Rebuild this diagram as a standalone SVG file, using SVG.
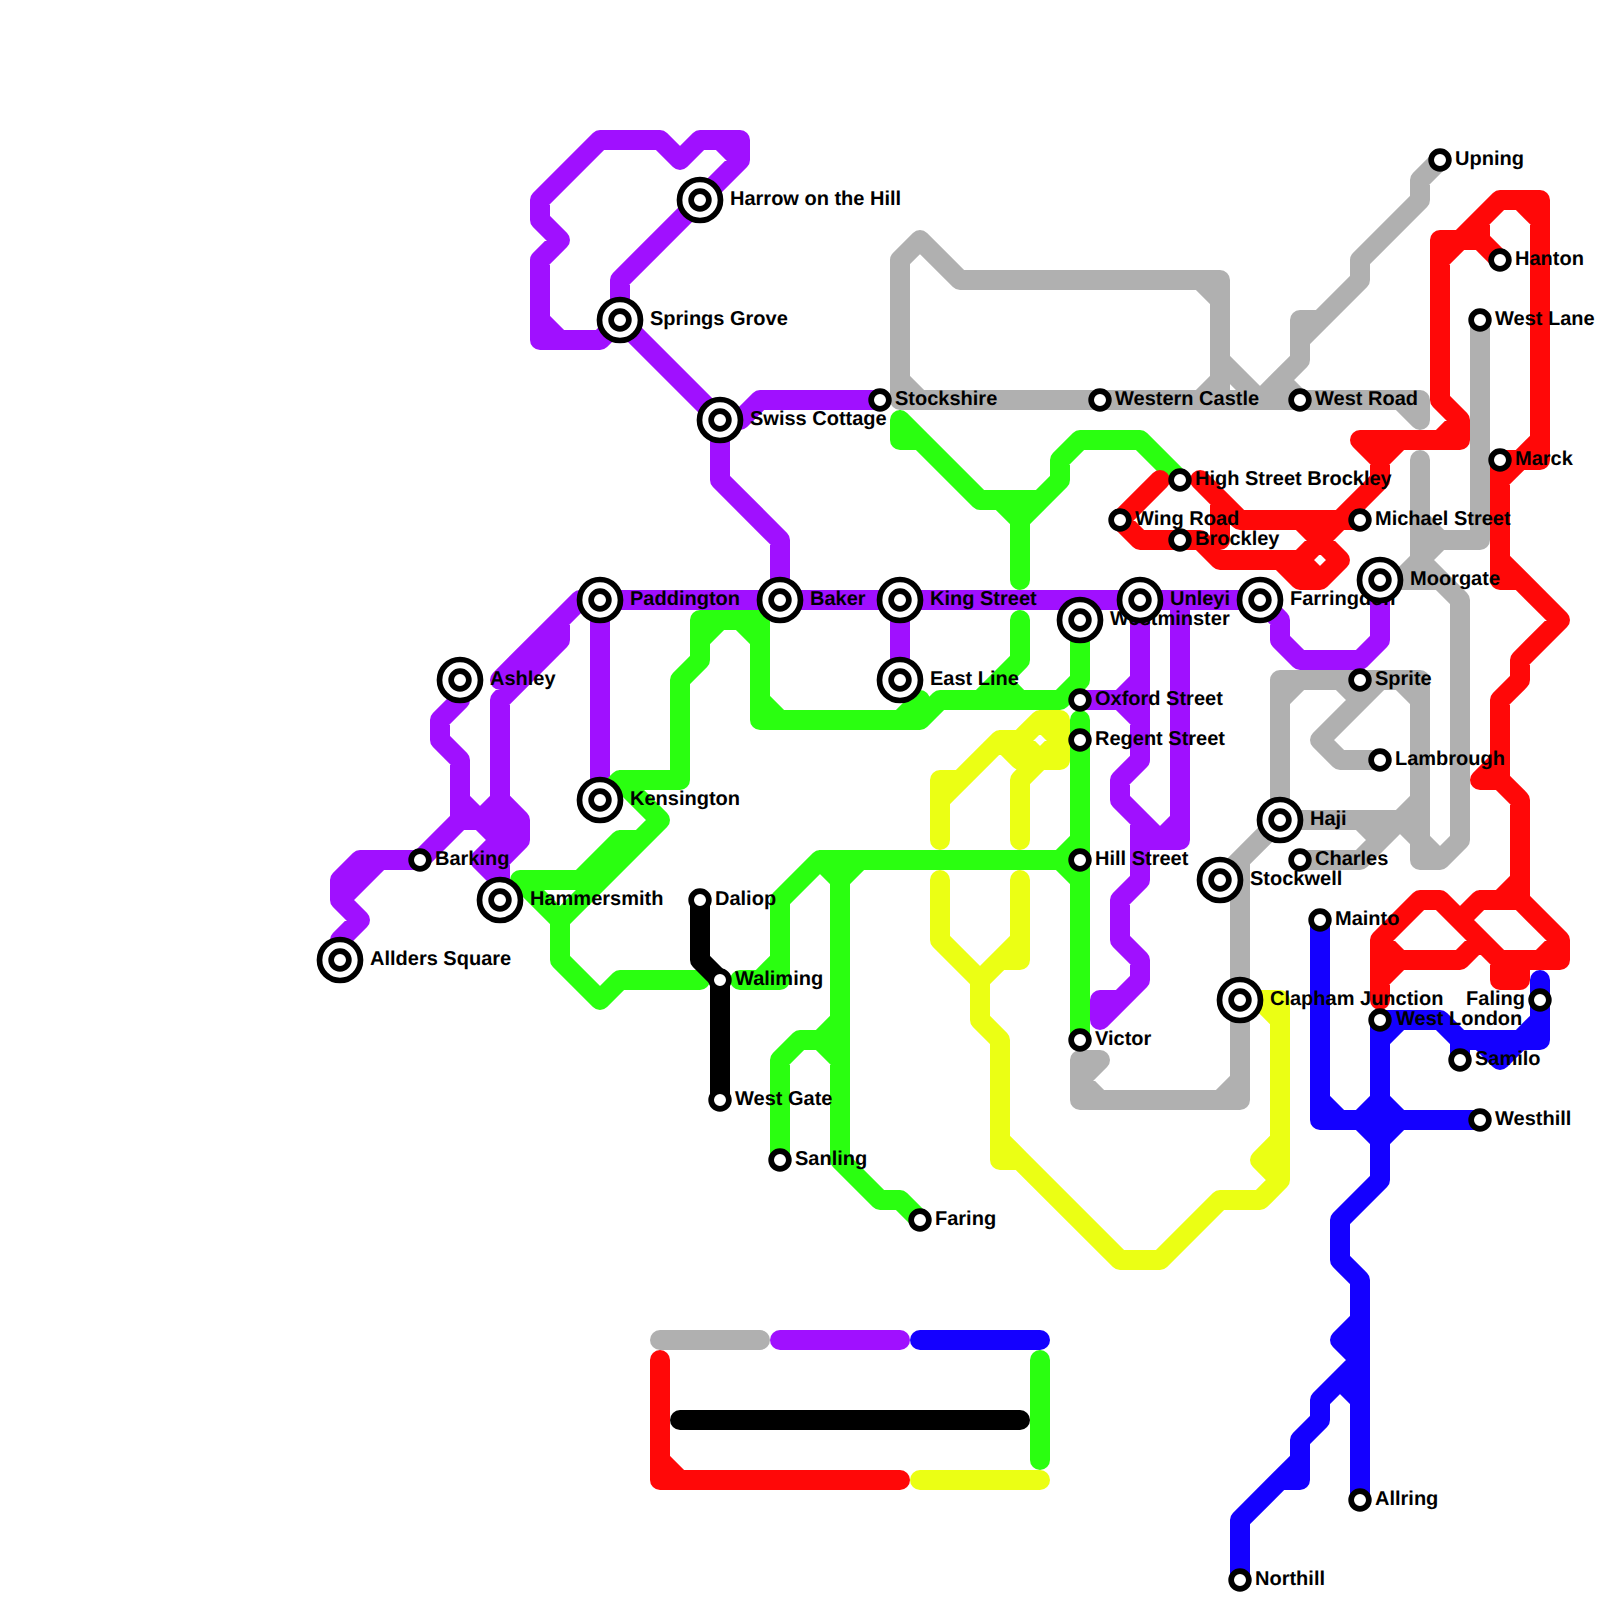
<svg xmlns="http://www.w3.org/2000/svg" width="1600" height="1600" viewBox="0 0 1600 1600">
<style>
.l{fill:none;stroke-width:20;stroke-linecap:round;stroke-linejoin:round}
.g{stroke:#b0b0b0}.p{stroke:#a010ff}.n{stroke:#2aff10}.y{stroke:#ebff14}.r{stroke:#ff0808}.b{stroke:#1400ff}.k{stroke:#000}
text{font-family:"Liberation Sans",Arial,sans-serif;font-weight:bold;font-size:20px;fill:#000;text-rendering:geometricPrecision}
.o{fill:#fff;stroke:#000;stroke-width:5.7}.i{fill:#fff;stroke:#000;stroke-width:5.7}
</style>
<defs>
<g id="big"><circle r="20.5" class="o"/><circle r="8.85" class="i"/></g>
<circle id="small" r="8.85" class="i"/>
</defs>
<rect width="1600" height="1600" fill="#fff"/>
<g id="connectors">
<path class="l g" d="M900 400V260L920 240L960 280H1220V400M1200 280L1220 300M900 380L920 400M1220 380L1200 400M1220 360L1260 400M900 400H1420V420M1400 400L1420 420M1440 160L1420 180V200L1360 260V280L1300 340V360L1260 400M1300 360V320H1320M1280 380L1300 400M1480 320V540H1440L1400 580H1380M1420 460V560M1420 520L1440 540M1380 580H1440L1460 600V840L1440 860H1420V680H1280V820M1420 560L1460 600M1420 840L1440 860M1280 700L1300 680M1400 680L1420 700M1380 680L1320 740L1340 760H1380M1340 680L1360 700M1280 820H1400L1420 800M1300 860H1360L1400 820M1360 820L1380 840M1400 820L1420 840M1280 820L1220 880M1240 860V1100H1080V1060H1100L1080 1080L1100 1100M1240 1080L1220 1100"/>
<path class="l p" d="M700 200L740 160V140H700L680 160L660 140H600L540 200V220L560 240L540 260V340H600L620 320M720 140L740 160M540 320L560 340M700 200L620 280V320L720 420V480L780 540V600M720 420H740L760 400H880M580 600H1260M580 600L560 620V640L500 700V800L520 820V840L500 860V900M560 620L500 680M600 600V800M460 680V700L440 720V740L460 760V820L420 860H360L340 880V900L360 920L340 940V960M380 860L340 900M460 820H520M480 820L500 840M460 800L480 820M500 800L480 820M520 820L480 860L500 880M900 600V680M1140 600V760L1120 780V800L1140 820V880L1120 900V940L1140 960V980L1100 1020V1000H1120M1080 700H1120L1140 680M1120 700L1140 720M1180 600V840H1140M1120 800L1160 840M1180 820L1160 840M1260 600L1280 620V640L1300 660H1360L1380 640V580"/>
<path class="l n" d="M900 420V440H920M900 420L980 500H1040L1060 480V460L1080 440H1140L1180 480M1000 500L1020 520V580M1040 500L1020 520M1020 620V660L980 700M1000 680L1020 700M780 720H920L940 700H1060L1080 680V620M900 720L920 700M1080 720V1040M1080 840L1060 860L1080 880M1060 860H820L780 900V980H740M780 960L760 980M840 860V1160L880 1200H900L920 1220M820 860L840 880L860 860M780 1160V1060L800 1040H820L840 1060M840 1020L820 1040M600 800L620 780H680V680L700 660V620H760V720H780M700 640L720 620M740 620L760 640M760 700L780 720M620 780L660 820L560 920V960L600 1000L620 980H700M620 840H640M620 840L580 880H520L560 920"/>
<path class="l y" d="M940 840V780H960M940 800L1000 740H1020L1040 720H1060V760H1040L1020 780V840M1000 740L1020 760M1040 720L1060 740L1040 760L1020 740M940 880V940L980 980L1000 960H1020V880M1020 940L980 980V1020L1000 1040V1160H1020L1120 1260H1160L1220 1200H1260L1280 1180V1000H1240M1000 1140L1020 1160M1260 1000L1280 1020M1260 1160L1280 1180M1260 1160L1280 1140"/>
<path class="l r" d="M1440 400V240H1480L1500 260M1440 260L1500 200H1540V460H1500M1480 220V240M1520 200L1540 220M1440 400L1460 420V440H1360L1380 460V480L1340 520H1240L1200 480M1440 440L1460 420M1400 440L1380 460M1220 500V540M1120 520L1160 480M1120 520L1140 540H1200L1220 560H1280L1300 580H1320L1340 560L1300 520M1340 520L1300 560L1320 580M1280 560H1300M1360 520H1340M1540 440L1500 480M1500 460V580H1520M1500 560L1560 620L1520 660V680L1500 700V780H1480M1500 760L1480 780M1500 780L1520 800V900L1560 940V960H1500V980H1520V960M1520 880L1500 900M1480 900H1520M1480 900L1460 920M1440 900H1420L1380 940V1000M1440 900L1500 960M1380 960H1460L1480 940M1380 980L1400 960M1380 940L1400 960M1560 940L1540 960"/>
<path class="l b" d="M1320 920V1120H1480M1320 1100L1340 1120M1380 1020V1180L1340 1220V1260L1360 1280V1500M1380 1100L1360 1120L1380 1140L1400 1120L1380 1100M1380 1020H1440L1460 1040V1060M1460 1040H1540V980M1540 1020L1520 1040M1480 1040L1500 1060L1520 1040M1380 1040L1400 1020M1360 1320L1340 1340L1360 1360L1320 1400V1420L1300 1440V1480H1280M1300 1460L1240 1520V1580M1340 1380L1360 1400"/>
<path class="l k" d="M700 900V960L720 980V1100"/>
<path class="l g" d="M660 1340H760"/>
<path class="l p" d="M780 1340H900"/>
<path class="l b" d="M920 1340H1040"/>
<path class="l r" d="M660 1360V1480H900M660 1460L680 1480"/>
<path class="l k" d="M680 1420H1020"/>
<path class="l n" d="M1040 1360V1460"/>
<path class="l y" d="M920 1480H1040"/>
</g>
<g id="labels">
<text x="730" y="205">Harrow on the Hill</text>
<text x="650" y="325">Springs Grove</text>
<text x="750" y="425">Swiss Cottage</text>
<text x="630" y="605">Paddington</text>
<text x="810" y="605">Baker</text>
<text x="490" y="685">Ashley</text>
<text x="630" y="805">Kensington</text>
<text x="435" y="865">Barking</text>
<text x="530" y="905">Hammersmith</text>
<text x="370" y="965">Allders Square</text>
<text x="715" y="905">Daliop</text>
<text x="735" y="985">Waliming</text>
<text x="735" y="1105">West Gate</text>
<text x="795" y="1165">Sanling</text>
<text x="935" y="1225">Faring</text>
<text x="895" y="405">Stockshire</text>
<text x="1115" y="405">Western Castle</text>
<text x="930" y="605">King Street</text>
<text x="930" y="685">East Line</text>
<text x="1170" y="605">Unleyi</text>
<text x="1110" y="625">Westminster</text>
<text x="1195" y="485">High Street Brockley</text>
<text x="1135" y="525">Wing Road</text>
<text x="1195" y="545">Brockley</text>
<text x="1290" y="605">Farringdon</text>
<text x="1410" y="585">Moorgate</text>
<text x="1375" y="525">Michael Street</text>
<text x="1315" y="405">West Road</text>
<text x="1455" y="165">Upning</text>
<text x="1515" y="265">Hanton</text>
<text x="1495" y="325">West Lane</text>
<text x="1515" y="465">Marck</text>
<text x="1375" y="685">Sprite</text>
<text x="1395" y="765">Lambrough</text>
<text x="1310" y="825">Haji</text>
<text x="1315" y="865">Charles</text>
<text x="1250" y="885">Stockwell</text>
<text x="1335" y="925">Mainto</text>
<text x="1270" y="1005">Clapham Junction</text>
<text x="1396" y="1025">West London</text>
<text x="1525" y="1005" text-anchor="end">Faling</text>
<text x="1475" y="1065">Samilo</text>
<text x="1495" y="1125">Westhill</text>
<text x="1375" y="1505">Allring</text>
<text x="1255" y="1585">Northill</text>
<text x="1095" y="705">Oxford Street</text>
<text x="1095" y="745">Regent Street</text>
<text x="1095" y="865">Hill Street</text>
<text x="1095" y="1045">Victor</text>
</g>
<g id="stations">
<use id="n-harrow" href="#big" x="700" y="200"/>
<use id="n-springs" href="#big" x="620" y="320"/>
<use id="n-swiss" href="#big" x="720" y="420"/>
<use id="n-paddington" href="#big" x="600" y="600"/>
<use id="n-baker" href="#big" x="780" y="600"/>
<use id="n-ashley" href="#big" x="460" y="680"/>
<use id="n-kensington" href="#big" x="600" y="800"/>
<use id="n-hammersmith" href="#big" x="500" y="900"/>
<use id="n-allders" href="#big" x="340" y="960"/>
<use id="n-king" href="#big" x="900" y="600"/>
<use id="n-east" href="#big" x="900" y="680"/>
<use id="n-westminster" href="#big" x="1080" y="620"/>
<use id="n-unleyi" href="#big" x="1140" y="600"/>
<use id="n-farringdon" href="#big" x="1260" y="600"/>
<use id="n-moorgate" href="#big" x="1380" y="580"/>
<use id="n-haji" href="#big" x="1280" y="820"/>
<use id="n-stockwell" href="#big" x="1220" y="880"/>
<use id="n-clapham" href="#big" x="1240" y="1000"/>
<use id="n-barking" href="#small" x="420" y="860"/>
<use id="n-daliop" href="#small" x="700" y="900"/>
<use id="n-waliming" href="#small" x="720" y="980"/>
<use id="n-westgate" href="#small" x="720" y="1100"/>
<use id="n-sanling" href="#small" x="780" y="1160"/>
<use id="n-faring" href="#small" x="920" y="1220"/>
<use id="n-stockshire" href="#small" x="880" y="400"/>
<use id="n-western" href="#small" x="1100" y="400"/>
<use id="n-hsb" href="#small" x="1180" y="480"/>
<use id="n-wing" href="#small" x="1120" y="520"/>
<use id="n-brockley" href="#small" x="1180" y="540"/>
<use id="n-michael" href="#small" x="1360" y="520"/>
<use id="n-westroad" href="#small" x="1300" y="400"/>
<use id="n-upning" href="#small" x="1440" y="160"/>
<use id="n-hanton" href="#small" x="1500" y="260"/>
<use id="n-westlane" href="#small" x="1480" y="320"/>
<use id="n-marck" href="#small" x="1500" y="460"/>
<use id="n-sprite" href="#small" x="1360" y="680"/>
<use id="n-lambrough" href="#small" x="1380" y="760"/>
<use id="n-charles" href="#small" x="1300" y="860"/>
<use id="n-mainto" href="#small" x="1320" y="920"/>
<use id="n-westlondon" href="#small" x="1380" y="1020"/>
<use id="n-faling" href="#small" x="1540" y="1000"/>
<use id="n-samilo" href="#small" x="1460" y="1060"/>
<use id="n-westhill" href="#small" x="1480" y="1120"/>
<use id="n-allring" href="#small" x="1360" y="1500"/>
<use id="n-northill" href="#small" x="1240" y="1580"/>
<use id="n-oxford" href="#small" x="1080" y="700"/>
<use id="n-regent" href="#small" x="1080" y="740"/>
<use id="n-hill" href="#small" x="1080" y="860"/>
<use id="n-victor" href="#small" x="1080" y="1040"/>
</g>
</svg>
